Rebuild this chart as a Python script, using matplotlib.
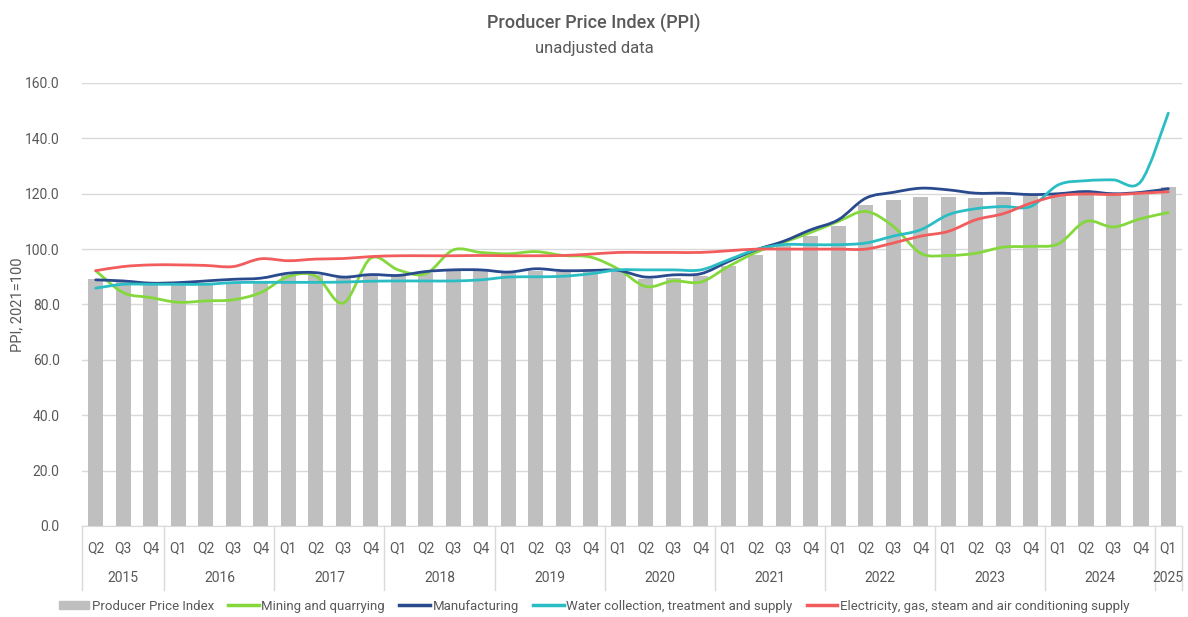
import numpy as np
import matplotlib.pyplot as plt
from matplotlib.path import Path
from matplotlib.patches import PathPatch, Patch
from matplotlib.lines import Line2D

plt.rcParams['font.family'] = ['Roboto', 'DejaVu Sans']

# quarters from 2015 Q2 to 2025 Q1
quarters = ["Q2", "Q3", "Q4"] + ["Q1", "Q2", "Q3", "Q4"] * 9 + ["Q1"]
years = ["2015", "2016", "2017", "2018", "2019", "2020",
         "2021", "2022", "2023", "2024", "2025"]
year_len = [3, 4, 4, 4, 4, 4, 4, 4, 4, 4, 1]

ppi = [89.3, 88.5, 87.5, 87.2, 87.5, 88.0, 88.6, 90.5, 90.6, 89.5,
       90.2, 90.2, 91.5, 92.1, 92.0, 91.5, 92.2, 91.6, 91.6, 91.6,
       89.2, 89.6, 90.2, 94.0, 98.0, 101.2, 104.6, 108.5, 115.8, 117.6,
       119.0, 119.0, 118.6, 119.0, 119.3, 119.7, 119.8, 119.9, 120.3, 122.3]
mining = [92.2, 84.3, 82.5, 80.8, 81.3, 81.7, 84.3, 90.1, 90.3, 80.5,
          96.7, 92.5, 91.1, 99.7, 98.8, 98.3, 99.1, 97.7, 97.1, 92.8,
          86.5, 88.5, 88.1, 93.7, 98.8, 102.4, 106.0, 110.0, 113.6, 108.2,
          98.5, 97.7, 98.5, 100.7, 101.0, 101.9, 110.0, 108.0, 111.0, 113.2]
manufacturing = [88.9, 88.5, 87.7, 87.9, 88.5, 89.1, 89.5, 91.3, 91.5, 89.9,
                 90.8, 90.5, 91.9, 92.5, 92.5, 91.7, 92.9, 92.2, 92.3, 92.3,
                 89.9, 90.7, 91.1, 95.5, 99.7, 102.8, 107.0, 110.6, 118.4, 120.5,
                 122.0, 121.4, 120.2, 120.2, 119.7, 120.0, 120.8, 120.0, 120.5, 121.8]
water = [85.9, 87.3, 87.3, 87.3, 87.3, 87.9, 88.0, 88.0, 88.0, 88.1,
         88.4, 88.5, 88.5, 88.5, 88.9, 89.9, 90.0, 90.2, 91.1, 92.5,
         92.5, 92.5, 92.5, 96.1, 99.8, 101.6, 101.6, 101.6, 102.2, 104.7,
         107.0, 112.4, 114.6, 115.4, 115.4, 123.2, 124.7, 125.0, 124.4, 149.1]
electricity = [92.2, 93.7, 94.3, 94.3, 94.1, 93.7, 96.5, 95.8, 96.4, 96.6,
               97.3, 97.6, 97.6, 97.6, 97.7, 97.6, 97.6, 97.7, 98.2, 98.8,
               98.8, 98.8, 98.8, 99.4, 100.0, 100.0, 100.0, 100.0, 100.0, 102.2,
               104.7, 106.4, 110.6, 112.8, 116.6, 119.3, 119.9, 119.7, 120.2, 120.7]

series = [
    ("Mining and quarrying", mining, "#84d83c"),
    ("Manufacturing", manufacturing, "#2a4a8e"),
    ("Water collection, treatment and supply", water, "#2bbdc4"),
    ("Electricity, gas, steam and air conditioning supply", electricity, "#f25c5c"),
]

text_col = "#595959"
grid_col = "#d9d9d9"


def smooth_path(x, y):
    # bezier curve through the points, like Excel's smoothed line
    pts = np.column_stack([x, y]).astype(float)
    n = len(pts)
    verts = [pts[0]]
    codes = [Path.MOVETO]
    for i in range(n - 1):
        p0 = pts[i - 1] if i > 0 else pts[i]
        p1 = pts[i]
        p2 = pts[i + 1]
        p3 = pts[i + 2] if i + 2 < n else pts[i + 1]
        verts += [p1 + (p2 - p0) / 6, p2 - (p3 - p1) / 6, p2]
        codes += [Path.CURVE4] * 3
    return Path(verts, codes)


fig = plt.figure(figsize=(11.88, 6.17), dpi=100)
ax = fig.add_axes([0.069, 0.1475, 0.926, 0.718])

x = np.arange(len(ppi))
ax.bar(x, ppi, width=0.56, color="#bfbfbf", zorder=2)

for name, vals, col in series:
    ax.add_patch(PathPatch(smooth_path(x, vals), facecolor="none", edgecolor=col,
                           lw=2.0, capstyle="round", joinstyle="round", zorder=3))

ax.set_xlim(-0.5, len(ppi) - 0.5)
ax.set_ylim(0, 160)
ax.set_yticks(np.arange(0, 161, 20))
ax.set_yticklabels([f"{v:.1f}" for v in np.arange(0, 161, 20)], color=text_col, fontsize=10)
ax.yaxis.grid(True, color=grid_col, lw=1, zorder=0)
ax.set_axisbelow(True)
ax.tick_params(axis="y", length=0, pad=16)
ax.set_xticks([])
for s in ["top", "right", "left"]:
    ax.spines[s].set_visible(False)
ax.spines["bottom"].set_color(grid_col)
ax.set_ylabel("PPI, 2021=100", color=text_col, fontsize=10.5, labelpad=0)
ax.yaxis.set_label_coords(-0.052, 0.5)

# two-level category axis
trans = ax.get_xaxis_transform()
for i, q in enumerate(quarters):
    ax.text(i, -0.05, q, transform=trans, ha="center", va="center",
            color=text_col, fontsize=10)
start = 0
bounds = [-0.5]
for yr, ln in zip(years, year_len):
    mid = start + (ln - 1) / 2
    ax.text(mid, -0.118, yr, transform=trans, ha="center", va="center",
            color=text_col, fontsize=10)
    start += ln
    bounds.append(start - 0.5)
for b in bounds:
    ax.add_line(Line2D([b, b], [0, -0.145], transform=trans, color=grid_col,
                       lw=1, clip_on=False))

fig.text(0.5, 0.962, "Producer Price Index (PPI)", ha="center", va="center",
         fontsize=13, fontweight=500, color=text_col)
fig.text(0.5, 0.921, "unadjusted data", ha="center", va="center",
         fontsize=12, color=text_col)

handles = [Patch(color="#bfbfbf")] + [Line2D([], [], color=c, lw=2.5) for _, _, c in series]
labels = ["Producer Price Index"] + [n for n, _, _ in series]
fig.legend(handles, labels, loc="lower center", bbox_to_anchor=(0.5, -0.012), ncol=5,
           frameon=False, fontsize=9.5, handlelength=2.3, handleheight=0.6,
           columnspacing=1.1, handletextpad=0.2, labelcolor=text_col)

fig.savefig("out.png", dpi=100)
